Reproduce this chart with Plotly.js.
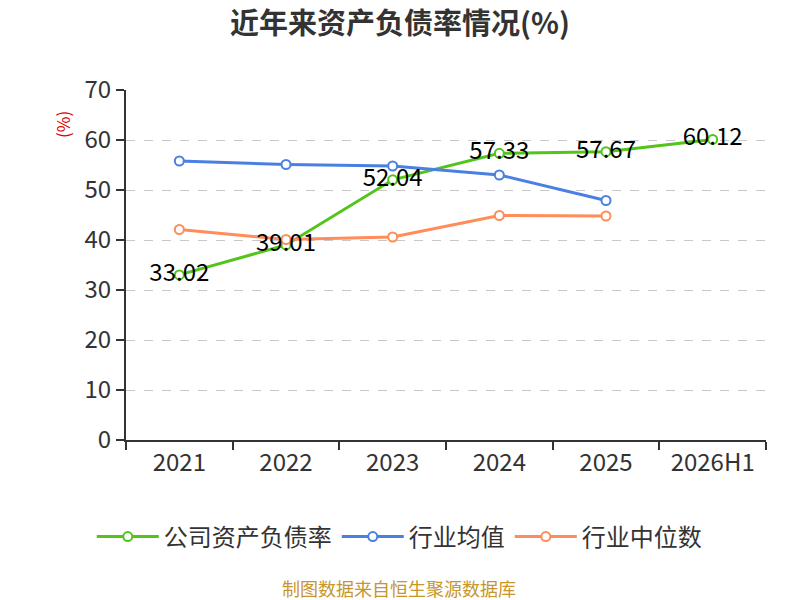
<!DOCTYPE html>
<html>
<head>
<meta charset="utf-8">
<script src="https://cdn.plot.ly/plotly-3.0.1.min.js"></script>
<style>
  html, body { margin: 0; padding: 0; background: #fff; }
  #chart { width: 800px; height: 600px; }
</style>
</head>
<body>
<div id="chart"></div>
<script>
// categories and values
var years = ['2021', '2022', '2023', '2024', '2025', '2026H1'];
var industryYears = ['2021', '2022', '2023', '2024', '2025'];
var companyRatio = [33.02, 39.01, 52.04, 57.33, 57.67, 60.12];
var industryMean = [55.8, 55.1, 54.8, 53.0, 47.9];
var industryMedian = [42.1, 40.1, 40.6, 44.9, 44.8];
var yTicks = [0, 10, 20, 30, 40, 50, 60, 70];

var FONT = '"Noto Sans CJK SC", "Noto Sans", sans-serif';
var GREEN = '#52c41a', BLUE = '#4a80e2', ORANGE = '#ff8c59';

function lineTrace(name, x, y, color) {
  return {
    name: name,
    x: x,
    y: y,
    type: 'scatter',
    mode: 'lines+markers',
    line: {color: color, width: 3},
    marker: {symbol: 'circle', size: 9, color: '#fff', line: {color: color, width: 2}},
    hoverinfo: 'x+y'
  };
}

var data = [
  lineTrace('公司资产负债率', years, companyRatio, GREEN),
  lineTrace('行业均值', industryYears, industryMean, BLUE),
  lineTrace('行业中位数', industryYears, industryMedian, ORANGE),
  {
    x: years,
    y: companyRatio,
    text: companyRatio.map(function (v) { return v.toFixed(2); }),
    type: 'scatter',
    mode: 'text',
    textposition: 'middle center',
    textfont: {family: FONT, size: 24, color: '#000'},
    showlegend: false,
    hoverinfo: 'skip'
  }
];

var layout = {
  width: 800,
  height: 600,
  margin: {l: 126, r: 34, t: 90, b: 160},
  paper_bgcolor: '#fff',
  plot_bgcolor: '#fff',
  font: {family: FONT, color: '#333'},
  title: {
    text: '<b>近年来资产负债率情况(%)</b>',
    font: {family: FONT, size: 29, color: '#333'},
    x: 0.5, xref: 'container',
    y: 0.96, yref: 'container', yanchor: 'middle'
  },
  xaxis: {
    type: 'category',
    categoryarray: years,
    range: [-0.5, 5.5],
    tickson: 'boundaries',
    ticks: 'outside',
    ticklen: 8,
    tickwidth: 2,
    tickcolor: '#333',
    showline: true,
    linecolor: '#333',
    linewidth: 2,
    showgrid: false,
    zeroline: false,
    tickfont: {family: FONT, size: 24, color: '#333'},
    fixedrange: true
  },
  yaxis: {
    range: [0, 70],
    tickvals: yTicks,
    ticks: 'outside',
    ticklen: 8,
    tickwidth: 2,
    tickcolor: '#333',
    showline: true,
    linecolor: '#333',
    linewidth: 2,
    showgrid: true,
    gridcolor: '#c8c8c8',
    griddash: 'dash',
    gridwidth: 1,
    zeroline: false,
    tickfont: {family: FONT, size: 24, color: '#333'},
    fixedrange: true
  },
  legend: {
    orientation: 'h',
    x: 0.427, xanchor: 'center',
    y: -0.277, yanchor: 'middle',
    font: {family: FONT, size: 24, color: '#333'},
    itemwidth: 62
  },
  annotations: [
    {
      text: '(%)',
      xref: 'paper', yref: 'paper',
      x: -0.1, y: 0.9,
      xanchor: 'center', yanchor: 'middle',
      textangle: -90,
      showarrow: false,
      font: {family: FONT, size: 17, color: '#e00000'}
    },
    {
      text: '制图数据来自恒生聚源数据库',
      xref: 'paper', yref: 'paper',
      x: 0.427, y: -0.423,
      xanchor: 'center', yanchor: 'middle',
      showarrow: false,
      font: {family: FONT, size: 18, color: '#c8962a'}
    }
  ]
};

var config = {displayModeBar: false, displaylogo: false};

Plotly.newPlot('chart', data, layout, config);
</script>
</body>
</html>
